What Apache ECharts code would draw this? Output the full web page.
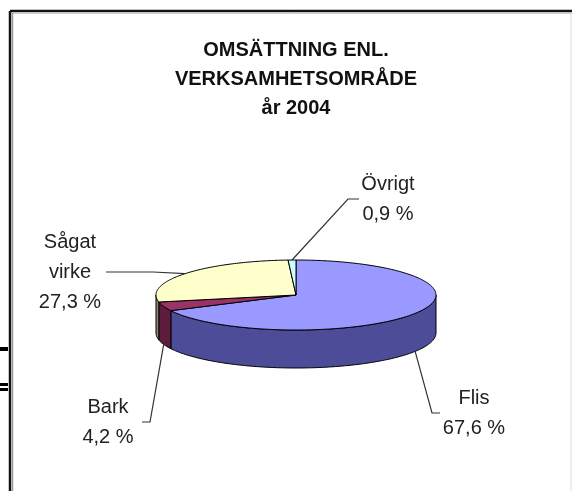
<!DOCTYPE html>
<html>
<head>
<meta charset="utf-8">
<script src="https://cdn.jsdelivr.net/npm/echarts@6/dist/echarts.min.js"></script>
<style>
  body { margin: 0; background: #fff; }
  #main { width: 572px; height: 491px; }
</style>
</head>
<body>
<div id="main"></div>
<script>
// data, clockwise from 12 o'clock
const names = ['Flis', 'Bark', 'Sågat virke', 'Övrigt'];
const values = [67.6, 4.2, 27.3, 0.9];

const topColors = ['#9999ff', '#993366', '#ffffcc', '#ccffff'];
const sideColors = ['#4c4c99', '#5e1c3d', '#8a8a6e', '#6e9999'];

// 3d pie geometry
const CX = 296, CY = 295, RX = 140, RY = 35, DEPTH = 38;
// label centre, leader end x, elbow x
const labelPos = [
  { x: 474, y: 413, endX: 440, elbowX: 432 },
  { x: 108, y: 422, endX: 142, elbowX: 150 },
  { x: 70, y: 272, endX: 106, elbowX: 153 },
  { x: 388, y: 199, endX: 359, elbowX: 348 }
];

const total = values.reduce((a, b) => a + b, 0);
const starts = [];
let acc = 0;
values.forEach(v => { starts.push(acc / total * Math.PI * 2); acc += v; });

function pt(a, dy) {
  return [CX + RX * Math.sin(a), CY - RY * Math.cos(a) + dy];
}

function arc(a0, a1, dy) {
  const pts = [];
  const n = Math.max(2, Math.ceil((a1 - a0) / (Math.PI / 180)));
  for (let i = 0; i <= n; i++) pts.push(pt(a0 + (a1 - a0) * i / n, dy));
  return pts;
}

function fmt(v) {
  return v.toFixed(1).replace('.', ',') + ' %';
}

function renderItem(params, api) {
  const i = params.dataIndex;
  const v = api.value(0);
  const a0 = starts[i];
  const a1 = a0 + v / total * Math.PI * 2;
  const children = [];

  // front wall
  const s0 = Math.max(a0, Math.PI / 2), s1 = Math.min(a1, Math.PI * 1.5);
  if (s1 > s0) {
    const top = arc(s0, s1, 0);
    const bottom = arc(s0, s1, DEPTH).reverse();
    children.push({
      type: 'polygon',
      shape: { points: top.concat(bottom) },
      style: { fill: sideColors[i], stroke: '#000', lineWidth: 1 }
    });
  }
  // top face
  children.push({
    type: 'polygon',
    shape: { points: [[CX, CY]].concat(arc(a0, a1, 0)) },
    style: { fill: topColors[i], stroke: '#000', lineWidth: 1 }
  });

  // leader line + label
  const mid = (a0 + a1) / 2;
  const front = Math.cos(mid) < 0;
  const anchor = pt(mid, front ? DEPTH : 0);
  const lp = labelPos[i];
  children.push({
    type: 'polyline',
    shape: { points: [anchor, [lp.elbowX, lp.y], [lp.endX, lp.y]] },
    style: { stroke: '#333', lineWidth: 1.2, fill: null }
  });
  children.push({
    type: 'text',
    style: {
      text: names[i].replace(' ', '\n') + '\n' + fmt(v),
      x: lp.x, y: lp.y,
      align: 'center', verticalAlign: 'middle',
      fontFamily: 'Liberation Sans, Arial, sans-serif',
      fontSize: 20, lineHeight: 30, fill: '#222'
    }
  });
  return { type: 'group', children: children };
}

const chart = echarts.init(document.getElementById('main'));
chart.setOption({
  backgroundColor: '#fff',
  animation: false,
  title: {
    text: 'OMSÄTTNING ENL.\nVERKSAMHETSOMRÅDE\når 2004',
    left: 296,
    top: 36,
    textAlign: 'center',
    padding: 0,
    textStyle: {
      fontFamily: 'Liberation Sans, Arial, sans-serif',
      fontWeight: 'bold',
      fontSize: 20,
      lineHeight: 29,
      color: '#111'
    }
  },
  graphic: [
    { type: 'line', shape: { x1: 10, y1: 11, x2: 572, y2: 11 }, style: { stroke: '#111', lineWidth: 2.5 } },
    { type: 'line', shape: { x1: 10, y1: 11, x2: 10, y2: 491 }, style: { stroke: '#111', lineWidth: 2.5 } },
    { type: 'line', shape: { x1: 13, y1: 13.5, x2: 572, y2: 13.5 }, style: { stroke: '#ccc', lineWidth: 1 } },
    { type: 'line', shape: { x1: 12.5, y1: 13, x2: 12.5, y2: 491 }, style: { stroke: '#999', lineWidth: 1.5 } },
    { type: 'line', shape: { x1: 571, y1: 13, x2: 571, y2: 491 }, style: { stroke: '#ddd', lineWidth: 1 } },
    { type: 'rect', shape: { x: 0, y: 347, width: 8, height: 4 }, style: { fill: '#000' } },
    { type: 'rect', shape: { x: 0, y: 383, width: 8, height: 3 }, style: { fill: '#000' } },
    { type: 'rect', shape: { x: 0, y: 388, width: 8, height: 3 }, style: { fill: '#000' } }
  ],
  series: [{
    type: 'custom',
    coordinateSystem: 'none',
    renderItem: renderItem,
    data: values.map((v, i) => ({ name: names[i], value: [v] }))
  }]
});
</script>
</body>
</html>
